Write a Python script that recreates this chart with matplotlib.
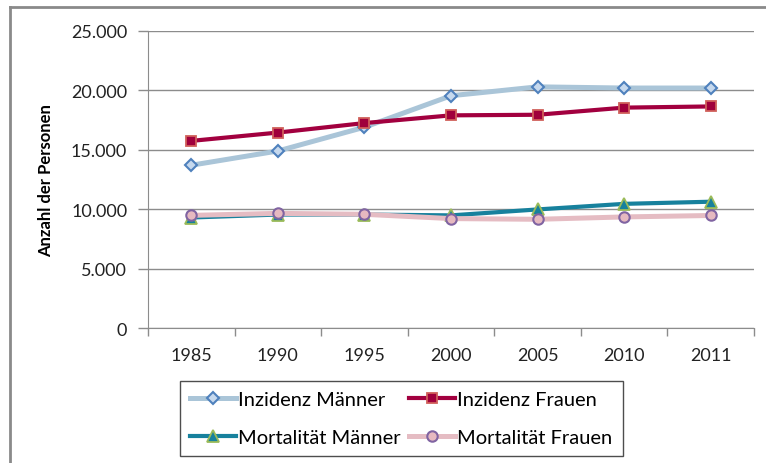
import matplotlib.pyplot as plt
from matplotlib.lines import Line2D
from matplotlib.ticker import FuncFormatter, FixedLocator

plt.rcParams['font.family'] = ['Lato', 'DejaVu Sans']

years = ['1985', '1990', '1995', '2000', '2005', '2010', '2011']
inz_maenner = [13700, 14900, 16900, 19550, 20300, 20200, 20200]
inz_frauen = [15750, 16450, 17250, 17900, 17950, 18550, 18650]
mort_maenner = [9300, 9550, 9550, 9480, 9980, 10450, 10630]
mort_frauen = [9480, 9650, 9570, 9210, 9150, 9350, 9470]

fig = plt.figure(figsize=(7.66, 4.64), dpi=100)
ax = fig.add_axes([148 / 766, 1 - 329 / 464, 606 / 766, 297 / 464])

x = range(len(years))
l1, = ax.plot(x, inz_maenner, color='#aac5d8', lw=3.6, marker='D', ms=6.5,
              mfc='#c6d9ee', mec='#4f81bd', mew=1.5, label='Inzidenz Männer', zorder=3)
l2, = ax.plot(x, inz_frauen, color='#a2003f', lw=3.0, marker='s', ms=7.5,
              mfc='#a0003c', mec='#d0605a', mew=1.3, label='Inzidenz Frauen', zorder=4)
l3, = ax.plot(x, mort_maenner, color='#17819d', lw=3.0, marker='^', ms=8,
              mfc='#17819d', mec='#9bbb59', mew=1.3, label='Mortalität Männer', zorder=3)
l4, = ax.plot(x, mort_frauen, color='#e5bcc3', lw=3.6, marker='o', ms=7.5,
              mfc='#e6b9c0', mec='#8064a2', mew=1.5, label='Mortalität Frauen', zorder=4)

ax.set_ylim(0, 25000)
ax.set_xlim(-0.5, len(years) - 0.5)
ax.set_yticks(range(0, 25001, 5000))
ax.yaxis.set_major_formatter(FuncFormatter(lambda v, p: f'{int(v):,}'.replace(',', '.')))
ax.grid(axis='y', color='#8c8c8c', lw=1.0)
ax.set_axisbelow(True)

# category ticks sit between the years, labels centred on the years
ax.xaxis.set_major_locator(FixedLocator([i - 0.5 for i in range(len(years) + 1)]))
ax.xaxis.set_minor_locator(FixedLocator(list(x)))
ax.set_xticklabels([''] * (len(years) + 1))
ax.set_xticklabels(years, minor=True)
ax.tick_params(axis='x', which='major', length=6, color='#8c8c8c', width=1)
ax.tick_params(axis='x', which='minor', length=0, pad=14, labelsize=13, labelcolor='#222222')
ax.tick_params(axis='y', length=7, color='#8c8c8c', width=1, labelsize=13,
               labelcolor='#222222', pad=8)

for side in ['top', 'right']:
    ax.spines[side].set_visible(False)
ax.spines['left'].set_color('#8c8c8c')
ax.spines['bottom'].set_color('#8c8c8c')

ax.set_ylabel('Anzahl der Personen', fontsize=12, fontweight='bold', labelpad=12)

# column-wise fill, so order the handles to read row by row
leg = fig.legend([l1, l3, l2, l4], [h.get_label() for h in (l1, l3, l2, l4)],
                 loc='upper left', bbox_to_anchor=(180 / 766, 1 - 382 / 464), ncol=2,
                 fontsize=14.5, frameon=True, fancybox=False, edgecolor='#222222',
                 handlelength=2.3, columnspacing=0.4, handletextpad=0.1,
                 borderpad=0.5, labelspacing=1.05, borderaxespad=0)
leg.get_frame().set_linewidth(1.0)

# outer chart frame
fig.add_artist(Line2D([10 / 766, 10 / 766], [0, 1 - 8 / 464], color='#8a8a8a', lw=2,
                      transform=fig.transFigure))
fig.add_artist(Line2D([10 / 766, 1], [1 - 8 / 464, 1 - 8 / 464], color='#8a8a8a', lw=2,
                      transform=fig.transFigure))

fig.savefig('out.png', dpi=100)
